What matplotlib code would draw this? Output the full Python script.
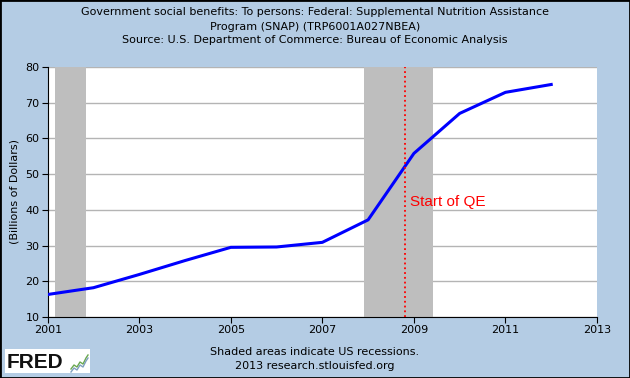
import matplotlib
matplotlib.use("Agg")
import matplotlib.pyplot as plt
from matplotlib.patches import Rectangle

# data (annual, billions of dollars)
years = [2001, 2002, 2003, 2004, 2005, 2006, 2007, 2008, 2009, 2010, 2011, 2012]
snap = [16.3, 18.2, 21.9, 25.8, 29.5, 29.6, 30.9, 37.2, 55.8, 67.0, 72.9, 75.1]

recessions = [(2001.17, 2001.84), (2007.92, 2009.42)]
qe_start = 2008.8

xticks = [2001, 2003, 2005, 2007, 2009, 2011, 2013]
yticks = [10, 20, 30, 40, 50, 60, 70, 80]

BG = "#b4cce4"

fig = plt.figure(figsize=(6.3, 3.78), dpi=100, facecolor=BG)
fig.patches.append(Rectangle((0, 0), 1, 1, transform=fig.transFigure,
                             fill=False, edgecolor="black", lw=2))

ax = fig.add_axes([0.0757, 0.1614, 0.8719, 0.6614])
ax.set_facecolor("white")

for a, b in recessions:
    ax.axvspan(a, b, color="#bebebe", lw=0, zorder=1)

ax.set_yticks(yticks)
ax.grid(axis="y", color="#b4b4b4", lw=1, zorder=0.5)
ax.set_axisbelow(True)

ax.plot(years, snap, color="#0000ff", lw=2.2, zorder=3)
ax.axvline(qe_start, color="red", ls=":", lw=1.3, zorder=4)
ax.text(qe_start + 0.12, 42.3, "Start of QE", color="red", fontsize=11,
        family="Liberation Sans", va="center", ha="left", zorder=5)

ax.set_xlim(2001, 2013)
ax.set_ylim(10, 80)
ax.set_xticks(xticks)
ax.set_xticklabels([str(t) for t in xticks])
ax.tick_params(labelsize=8, color="black", length=4, direction="out", pad=2)
for s in ["top", "right"]:
    ax.spines[s].set_visible(False)
for s in ["left", "bottom"]:
    ax.spines[s].set_color("black")
ax.set_ylabel("(Billions of Dollars)", fontsize=8, labelpad=4)

fig.text(0.5, 0.968, "Government social benefits: To persons: Federal: Supplemental Nutrition Assistance",
         ha="center", va="center", fontsize=8)
fig.text(0.5, 0.929, "Program (SNAP) (TRP6001A027NBEA)", ha="center", va="center", fontsize=8)
fig.text(0.5, 0.893, "Source: U.S. Department of Commerce: Bureau of Economic Analysis",
         ha="center", va="center", fontsize=8)

fig.text(0.5, 0.069, "Shaded areas indicate US recessions.", ha="center", va="center", fontsize=8)
fig.text(0.5, 0.033, "2013 research.stlouisfed.org", ha="center", va="center", fontsize=8)

# FRED logo
fig.patches.append(Rectangle((5 / 630, 5 / 378), 85 / 630, 24 / 378, transform=fig.transFigure,
                             facecolor="white", edgecolor="none"))
fig.text(7 / 630, 16 / 378, "FRED", fontsize=15, fontweight="heavy", va="center", ha="left",
         family="Liberation Sans", color="#111111")
lx = [71, 74, 77, 80, 83, 86, 88]
ly = [9, 13, 11, 16, 14, 20, 23]
fig.add_artist(plt.Line2D([x / 630 for x in lx], [y / 378 for y in ly],
                          transform=fig.transFigure, color="#6aa84f", lw=1))
fig.add_artist(plt.Line2D([x / 630 for x in lx], [(y - 3) / 378 for y in ly],
                          transform=fig.transFigure, color="#7f9fbf", lw=1))

fig.savefig("out.png", dpi=100, facecolor=BG)
